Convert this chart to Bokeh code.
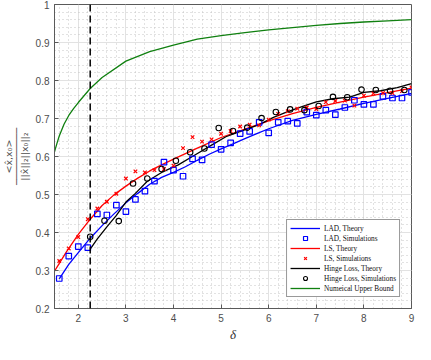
import numpy as np
from bokeh.plotting import figure
from bokeh.models import (Range1d, SingleIntervalTicker, Span, Legend, LegendItem,
                          CustomJSTickFormatter)
from bokeh.embed import file_html
from bokeh.resources import INLINE

# ---------------- data ----------------
delta_sim = [1.6, 1.8, 2.0, 2.2, 2.4, 2.6, 2.8, 3.0, 3.2, 3.4, 3.6, 3.8, 4.0,
             4.2, 4.4, 4.6, 4.8, 5.0, 5.2, 5.4, 5.6, 5.8, 6.0, 6.2, 6.4, 6.6,
             6.8, 7.0, 7.2, 7.4, 7.6, 7.8, 8.0, 8.2, 8.4, 8.6, 8.8, 9.0]
lad_sim = [0.279, 0.338, 0.363, 0.360, 0.449, 0.446, 0.472, 0.455, 0.487, 0.509,
           0.535, 0.585, 0.564, 0.548, 0.594, 0.591, 0.631, 0.619, 0.636, 0.660,
           0.666, 0.690, 0.662, 0.690, 0.693, 0.687, 0.717, 0.709, 0.722, 0.710,
           0.729, 0.748, 0.737, 0.737, 0.758, 0.754, 0.754, 0.769]
ls_sim = [0.325, 0.358, 0.388, 0.435, 0.463, 0.481, 0.502, 0.542, 0.561, 0.558,
          0.564, 0.567, 0.576, 0.622, 0.651, 0.639, 0.645, 0.660, 0.667, 0.679,
          0.684, 0.682, 0.697, 0.712, 0.719, 0.726, 0.729, 0.725, 0.743, 0.746,
          0.747, 0.734, 0.760, 0.766, 0.767, 0.767, 0.772, 0.782]

delta_hinge_sim = [2.25, 2.55, 2.85, 3.15, 3.45, 3.75, 4.05, 4.35, 4.65, 4.95, 5.25,
                   5.55, 5.85, 6.15, 6.45, 6.75, 7.05, 7.35, 7.65, 7.95, 8.25, 8.55, 8.85]
hinge_sim = [0.389, 0.431, 0.430, 0.529, 0.542, 0.567, 0.589, 0.611, 0.621, 0.675,
             0.667, 0.676, 0.701, 0.717, 0.724, 0.722, 0.733, 0.757, 0.756, 0.776,
             0.775, 0.773, 0.775]

delta_lad_th = [1.6, 1.8, 2.0, 2.25, 2.5, 2.75, 3.0, 3.25, 3.5, 3.75, 4.0, 4.25, 4.5,
                4.75, 5.0, 5.25, 5.5, 5.75, 6.0, 6.5, 7.0, 7.5, 8.0, 8.5, 9.0]
lad_th = [0.278, 0.316, 0.347, 0.385, 0.418, 0.449, 0.478, 0.503, 0.527, 0.545,
          0.558, 0.573, 0.590, 0.606, 0.620, 0.633, 0.647, 0.660, 0.673, 0.695,
          0.711, 0.725, 0.740, 0.753, 0.766]

delta_ls_th = [1.5, 1.75, 2.0, 2.25, 2.5, 2.75, 3.0, 3.25, 3.5, 3.75, 4.0, 4.5, 5.0,
               5.5, 6.0, 6.5, 7.0, 7.5, 8.0, 8.5, 9.0]
ls_th = [0.298, 0.349, 0.395, 0.435, 0.471, 0.499, 0.522, 0.543, 0.562, 0.578,
         0.593, 0.622, 0.650, 0.672, 0.694, 0.713, 0.729, 0.743, 0.756, 0.768, 0.780]

delta_hinge_th = [2.25, 2.4, 2.6, 2.8, 3.0, 3.2, 3.45, 3.75, 4.1, 4.45, 4.8, 5.1,
                  5.45, 5.8, 6.1, 6.4, 6.7, 7.0, 7.35, 7.7, 8.0, 8.35, 8.7, 9.0]
hinge_th = [0.356, 0.383, 0.415, 0.445, 0.480, 0.503, 0.535, 0.558, 0.578, 0.604,
            0.630, 0.652, 0.668, 0.684, 0.703, 0.718, 0.731, 0.744, 0.752, 0.756,
            0.769, 0.773, 0.781, 0.792]

delta_bound = [1.5, 1.55, 1.6, 1.7, 1.8, 1.9, 2.0, 2.25, 2.5, 3.0, 3.5, 4.0, 4.5,
               5.0, 5.5, 6.0, 6.5, 7.0, 7.5, 8.0, 8.5, 9.0]
bound = [0.612, 0.634, 0.654, 0.685, 0.708, 0.726, 0.742, 0.779, 0.808, 0.851,
         0.876, 0.893, 0.909, 0.918, 0.926, 0.933, 0.939, 0.945, 0.950, 0.954,
         0.957, 0.960]

delta_threshold = 2.25

x_lim = (1.5, 9.0)
y_lim = (0.2, 1.0)

y_label_num = "<x̂,x₀>"
y_label_den = "||x̂||₂||x₀||₂"
x_label = "δ"

# ---------------- figure ----------------
W, H = 415, 344

p = figure(width=W, height=H, x_range=Range1d(*x_lim), y_range=Range1d(*y_lim),
           output_backend="svg", toolbar_location=None,
           min_border_left=50, min_border_right=4, min_border_top=4,
           min_border_bottom=30, background_fill_color="white",
           border_fill_color="white")

axis_col = "#5a5a5a"
lab_col = "#4d4d4d"
xt = SingleIntervalTicker(interval=1, num_minor_ticks=5)
yt = SingleIntervalTicker(interval=0.1, num_minor_ticks=5)
yfmt = CustomJSTickFormatter(code="return tick.toFixed(1).replace(/\\.0$/, '');")

for ax, t in ((p.xaxis[0], xt), (p.yaxis[0], yt)):
    ax.ticker = t
    ax.major_tick_in = 4
    ax.major_tick_out = 0
    ax.minor_tick_in = 0
    ax.minor_tick_out = 0
    ax.axis_line_color = axis_col
    ax.major_tick_line_color = axis_col
    ax.major_label_text_font = "Liberation Sans"
    ax.major_label_text_font_size = "10px"
    ax.major_label_text_color = lab_col
    ax.major_label_standoff = 5
p.yaxis[0].formatter = yfmt

xa = p.xaxis[0]
xa.axis_label = x_label
xa.axis_label_text_font = "Liberation Serif"
xa.axis_label_text_font_style = "italic"
xa.axis_label_text_font_size = "13px"
xa.axis_label_text_color = "#333333"
xa.axis_label_standoff = 2

ya = p.yaxis[0]
bar = "─" * 10
ya.axis_label = y_label_num + "\n" + bar + "\n" + y_label_den
ya.axis_label_text_font = "DejaVu Sans"
ya.axis_label_text_font_size = "9.5px"
ya.axis_label_text_font_style = "normal"
ya.axis_label_text_color = lab_col
ya.axis_label_text_line_height = 0.7
ya.axis_label_standoff = 3

for g in (p.xgrid[0], p.ygrid[0]):
    g.grid_line_color = "#e2e2e2"
    g.grid_line_width = 1
    g.minor_grid_line_color = "#c4c4c4"
    g.minor_grid_line_dash = "1 3"
    g.minor_grid_line_width = 1
p.outline_line_color = axis_col

# ---------------- glyphs ----------------
blue, red, black, green = "#0000ff", "#ff0000", "#000000", "#108010"
r_bound = p.line(delta_bound, bound, line_color=green, line_width=1.3)
r_lad = p.line(delta_lad_th, lad_th, line_color=blue, line_width=1.3)
r_ls = p.line(delta_ls_th, ls_th, line_color=red, line_width=1.3)
r_hinge = p.line(delta_hinge_th, hinge_th, line_color=black, line_width=1.3)
r_lad_s = p.scatter(delta_sim, lad_sim, marker="square", size=5.5, fill_color=None,
                    line_color=blue, line_width=1.2)
r_ls_s = p.scatter(delta_sim, ls_sim, marker="x", size=5, line_color=red, line_width=1.2)
r_hinge_s = p.scatter(delta_hinge_sim, hinge_sim, marker="circle", size=5.5,
                      fill_color=None, line_color=black, line_width=1.1)

p.add_layout(Span(location=delta_threshold, dimension="height", line_color="black",
                  line_dash="7 4", line_width=1.5))

legend = Legend(items=[
    LegendItem(label="LAD, Theory", renderers=[r_lad]),
    LegendItem(label="LAD, Simulations", renderers=[r_lad_s]),
    LegendItem(label="LS, Theory", renderers=[r_ls]),
    LegendItem(label="LS, Simulations", renderers=[r_ls_s]),
    LegendItem(label="Hinge Loss, Theory", renderers=[r_hinge]),
    LegendItem(label="Hinge Loss, Simulations", renderers=[r_hinge_s]),
    LegendItem(label="Numeical Upper Bound", renderers=[r_bound]),
], location="bottom_right")
legend.margin = 11
legend.padding = 3
legend.spacing = 0
legend.glyph_width = 30
legend.glyph_height = 10
legend.label_height = 10
legend.label_standoff = 4
legend.label_text_font = "Liberation Serif"
legend.label_text_font_size = "7.3px"
legend.label_text_color = "#111111"
legend.border_line_color = "#333333"
legend.border_line_width = 1
legend.background_fill_alpha = 1
p.add_layout(legend, "center")

open("out.html", "w").write(file_html(p, INLINE))
